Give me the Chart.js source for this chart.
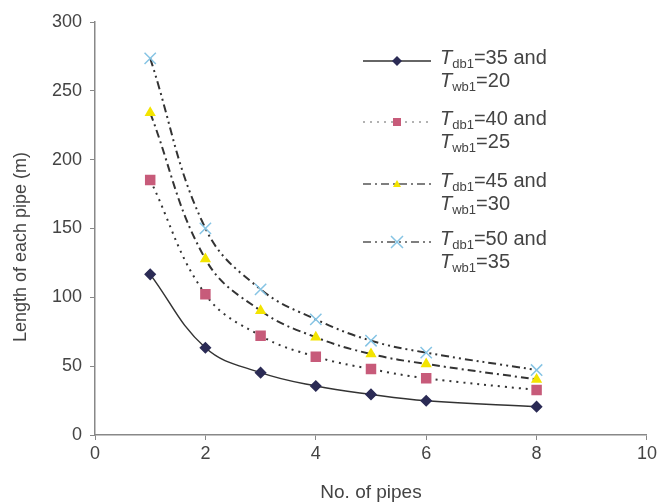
<!DOCTYPE html>
<html>
<head>
<meta charset="utf-8">
<script src="https://cdn.jsdelivr.net/npm/chart.js@4.4.0/dist/chart.umd.min.js"></script>
<style>
body{margin:0;background:#fff}
#wrap{position:relative;width:660px;height:504px}
#legend{position:absolute;left:362px;top:0;font-family:"Liberation Sans",Arial,sans-serif;font-size:20px;color:#444}
.item{position:absolute;left:0;width:270px;height:50px}
.item svg{position:absolute;left:0;top:0}
.item .txt{position:absolute;left:78px;top:0;line-height:23px;white-space:nowrap}
.txt i{font-style:italic}
.txt sub{font-size:13px;vertical-align:-4px;line-height:0}
</style>
</head>
<body>
<div id="wrap">
  <canvas id="chart" width="660" height="504"></canvas>
  <div id="legend"></div>
</div>
<script>
// number of pipes (x) and length of each pipe (m) per Tdb1/Twb1 pair
const pipes = [1, 2, 3, 4, 5, 6, 8];
const len35_20 = [116.7, 63.4, 45.3, 35.6, 29.5, 24.9, 20.6];
const len40_25 = [185.2, 102.2, 72.1, 56.9, 47.9, 41.2, 32.7];
const len45_30 = [234.0, 127.8, 90.3, 71.0, 58.8, 51.6, 40.4];
const len50_35 = [273.6, 150.1, 105.8, 84.0, 68.5, 59.8, 47.2];
const tdb = [35, 40, 45, 50];
const twb = [20, 25, 30, 35];
const yTitleText = 'Length of each pipe (m)';

const FONT = '"Liberation Sans", Arial, sans-serif';
const TXT = '#444';
const AXIS = '#888';

function pts(arr) {
    return pipes.map((p, i) => ({x: p, y: arr[i]}));
}

const datasets = [{
        data: pts(len35_20),
        borderColor: '#333',
        borderWidth: 1.5,
        pointStyle: 'rectRot',
        pointRadius: 5,
        pointBackgroundColor: '#2b2b55',
        pointBorderColor: '#2b2b55'
    }, {
        data: pts(len40_25),
        borderColor: '#333',
        borderWidth: 2,
        borderDash: [2, 5],
        pointStyle: 'rect',
        pointRadius: 6,
        pointBackgroundColor: '#c75b7a',
        pointBorderColor: '#c75b7a'
    }, {
        data: pts(len45_30),
        borderColor: '#333',
        borderWidth: 2,
        borderDash: [8, 4, 2, 4],
        pointStyle: 'triangle',
        pointRadius: 4.5,
        pointBackgroundColor: '#f3e400',
        pointBorderColor: '#f3e400'
    }, {
        data: pts(len50_35),
        borderColor: '#333',
        borderWidth: 2,
        borderDash: [8, 4, 2, 4, 2, 4],
        pointStyle: 'crossRot',
        pointRadius: 8,
        pointBorderWidth: 1.5,
        pointBackgroundColor: '#86c4e4',
        pointBorderColor: '#86c4e4'
    }];
datasets.forEach(d => { d.fill = false; d.tension = 0.4; });

// y title sits a bit below the middle of the axis in the original
const yTitle = {
    id: 'yTitle',
    afterDraw(c) {
        const ctx = c.ctx;
        ctx.save();
        ctx.translate(21, 247);
        ctx.rotate(-Math.PI / 2);
        ctx.font = '18px ' + FONT;
        ctx.fillStyle = TXT;
        ctx.textAlign = 'center';
        ctx.textBaseline = 'middle';
        ctx.fillText(yTitleText, 0, 0);
        ctx.restore();
    }
};

const chart = new Chart(document.getElementById('chart'), {
    type: 'line',
    data: {datasets: datasets},
    plugins: [yTitle],
    options: {
        responsive: false,
        animation: false,
        layout: {padding: {left: 0, right: 8, top: 22, bottom: 0}},
        plugins: {legend: {display: false}, tooltip: {enabled: false}},
        scales: {
            x: {
                type: 'linear',
                min: 0,
                max: 10,
                ticks: {stepSize: 2, color: TXT, padding: 3, font: {size: 18, family: FONT}},
                grid: {drawOnChartArea: false, tickLength: 5, color: AXIS},
                border: {color: AXIS, width: 1.5},
                title: {display: true, text: 'No. of pipes', color: TXT, padding: {top: 1, bottom: 0}, font: {size: 19, family: FONT}},
                afterFit(s) { s.height = 69; }
            },
            y: {
                min: 0,
                max: 300,
                ticks: {stepSize: 50, color: TXT, padding: 8, font: {size: 18, family: FONT}},
                grid: {drawOnChartArea: false, tickLength: 5, color: AXIS},
                border: {color: AXIS, width: 1.5},
                afterFit(s) { s.width = 95; }
            }
        }
    }
});

// legend with subscripts, drawn as html
const rowTops = [46, 107, 169, 227];
const marks = [
    '<polygon points="35,10 40,15 35,20 30,15" fill="#2b2b55"/>',
    '<rect x="31" y="11" width="8" height="8" fill="#c75b7a"/>',
    '<polygon points="35,11 39,18 31,18" fill="#f3e400"/>',
    '<path d="M29,9 L41,21 M41,9 L29,21" stroke="#86c4e4" stroke-width="1.5"/>'
];
const dashes = ['', '2 5', '8 4 2 4', '8 4 2 4 2 4'];
const strokes = ['#333', '#999', '#555', '#555'];
let html = '';
for (let i = 0; i < 4; i++) {
    html += '<div class="item" style="top:' + rowTops[i] + 'px">' +
        '<svg width="70" height="30"><line x1="1" y1="15" x2="69" y2="15" stroke="' + strokes[i] + '" stroke-width="1.5"' +
        (dashes[i] ? ' stroke-dasharray="' + dashes[i] + '"' : '') + '/>' + marks[i] + '</svg>' +
        '<div class="txt"><i>T</i><sub>db1</sub>=' + tdb[i] + ' and<br><i>T</i><sub>wb1</sub>=' + twb[i] + '</div></div>';
}
document.getElementById('legend').innerHTML = html;
</script>
</body>
</html>
